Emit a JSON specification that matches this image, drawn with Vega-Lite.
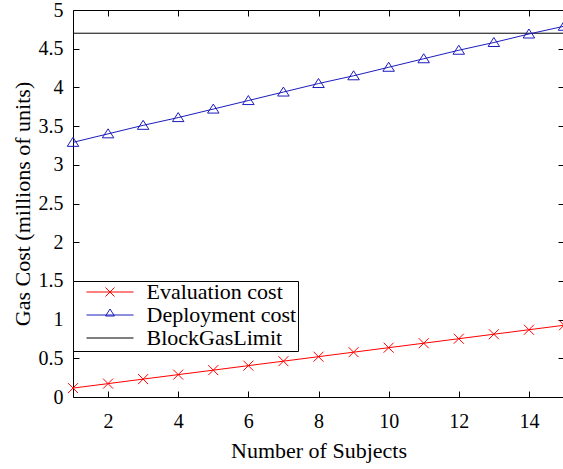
{
  "$schema": "https://vega.github.io/schema/vega-lite/v6.json",
  "width": 491,
  "height": 387,
  "autosize": {"type": "none"},
  "padding": {"left": 73, "top": 10, "right": 0, "bottom": 72},
  "background": "white",
  "config": {
    "font": "Liberation Serif",
    "view": {"stroke": "black", "strokeWidth": 1},
    "axis": {
      "domain": false, "grid": false, "tickColor": "black", "tickSize": -6, "tickWidth": 1,
      "labelColor": "black", "labelFontSize": 20, "titleFontSize": 22, "titleFontWeight": "normal",
      "titleColor": "black", "labelFont": "Liberation Serif", "titleFont": "Liberation Serif"
    }
  },
  "data": {
    "values": [
      {"n": 1, "cost": 0.115, "series": "Evaluation cost"},
      {"n": 2, "cost": 0.173, "series": "Evaluation cost"},
      {"n": 3, "cost": 0.231, "series": "Evaluation cost"},
      {"n": 4, "cost": 0.289, "series": "Evaluation cost"},
      {"n": 5, "cost": 0.347, "series": "Evaluation cost"},
      {"n": 6, "cost": 0.405, "series": "Evaluation cost"},
      {"n": 7, "cost": 0.463, "series": "Evaluation cost"},
      {"n": 8, "cost": 0.521, "series": "Evaluation cost"},
      {"n": 9, "cost": 0.579, "series": "Evaluation cost"},
      {"n": 10, "cost": 0.637, "series": "Evaluation cost"},
      {"n": 11, "cost": 0.695, "series": "Evaluation cost"},
      {"n": 12, "cost": 0.753, "series": "Evaluation cost"},
      {"n": 13, "cost": 0.811, "series": "Evaluation cost"},
      {"n": 14, "cost": 0.869, "series": "Evaluation cost"},
      {"n": 15, "cost": 0.927, "series": "Evaluation cost"},
      {"n": 1, "cost": 3.29, "series": "Deployment cost"},
      {"n": 2, "cost": 3.40, "series": "Deployment cost"},
      {"n": 3, "cost": 3.51, "series": "Deployment cost"},
      {"n": 4, "cost": 3.61, "series": "Deployment cost"},
      {"n": 5, "cost": 3.72, "series": "Deployment cost"},
      {"n": 6, "cost": 3.83, "series": "Deployment cost"},
      {"n": 7, "cost": 3.94, "series": "Deployment cost"},
      {"n": 8, "cost": 4.05, "series": "Deployment cost"},
      {"n": 9, "cost": 4.15, "series": "Deployment cost"},
      {"n": 10, "cost": 4.26, "series": "Deployment cost"},
      {"n": 11, "cost": 4.37, "series": "Deployment cost"},
      {"n": 12, "cost": 4.48, "series": "Deployment cost"},
      {"n": 13, "cost": 4.58, "series": "Deployment cost"},
      {"n": 14, "cost": 4.69, "series": "Deployment cost"},
      {"n": 15, "cost": 4.79, "series": "Deployment cost"},
      {"n": 1, "cost": 4.7, "series": "BlockGasLimit"},
      {"n": 15, "cost": 4.7, "series": "BlockGasLimit"}
    ]
  },
  "layer": [
    {
      "transform": [{"filter": "datum.series === 'BlockGasLimit'"}],
      "mark": {"type": "line", "color": "black", "strokeWidth": 1},
      "encoding": {
        "x": {"field": "n", "type": "quantitative", "scale": {"domain": [1, 15], "nice": false, "zero": false},
          "axis": {"orient": "bottom", "values": [2, 4, 6, 8, 10, 12, 14], "title": "Number of Subjects", "labelPadding": 20, "titlePadding": 9}},
        "y": {"field": "cost", "type": "quantitative", "scale": {"domain": [0, 5], "nice": false},
          "axis": {"orient": "left", "values": [0, 0.5, 1, 1.5, 2, 2.5, 3, 3.5, 4, 4.5, 5], "format": "~g", "title": "Gas Cost (millions of units)", "labelPadding": 16, "titlePadding": 4}}
      }
    },
    {
      "transform": [{"filter": "datum.series === 'Evaluation cost'"}],
      "mark": {"type": "line", "color": "#ff0000", "strokeWidth": 1},
      "encoding": {
        "x": {"field": "n", "type": "quantitative", "axis": null},
        "y": {"field": "cost", "type": "quantitative", "axis": null}
      }
    },
    {
      "transform": [{"filter": "datum.series === 'Evaluation cost'"}],
      "mark": {"type": "point", "shape": "M-1,-1L1,1M-1,1L1,-1", "size": 100, "color": "#ff0000", "strokeWidth": 1, "filled": false, "opacity": 1},
      "encoding": {
        "x": {"field": "n", "type": "quantitative", "axis": null},
        "y": {"field": "cost", "type": "quantitative", "axis": null}
      }
    },
    {
      "transform": [{"filter": "datum.series === 'Deployment cost'"}],
      "mark": {"type": "line", "color": "#1c1cbd", "strokeWidth": 1},
      "encoding": {
        "x": {"field": "n", "type": "quantitative", "axis": null},
        "y": {"field": "cost", "type": "quantitative", "axis": null}
      }
    },
    {
      "transform": [{"filter": "datum.series === 'Deployment cost'"}],
      "mark": {"type": "point", "shape": "M0,-1L1.15,0.8L-1.15,0.8Z", "size": 100, "color": "#1c1cbd", "strokeWidth": 1, "filled": false, "opacity": 1},
      "encoding": {
        "x": {"field": "n", "type": "quantitative", "axis": null},
        "y": {"field": "cost", "type": "quantitative", "axis": null}
      }
    },
    {
      "mark": {"type": "point", "opacity": 0, "filled": false},
      "encoding": {
        "x": {"field": "n", "type": "quantitative",
          "axis": {"orient": "top", "values": [2, 4, 6, 8, 10, 12, 14], "labels": false, "title": null}},
        "y": {"field": "cost", "type": "quantitative",
          "axis": {"orient": "right", "values": [0, 0.5, 1, 1.5, 2, 2.5, 3, 3.5, 4, 4.5, 5], "labels": false, "title": null}},
        "shape": {"field": "series", "type": "nominal",
          "scale": {"domain": ["Evaluation cost", "Deployment cost", "BlockGasLimit"],
            "range": ["M-4.7,0L4.7,0M-0.9,-0.9L0.9,0.9M-0.9,0.9L0.9,-0.9", "M-4.7,0L4.7,0M0,-1.2L0.9,0.2L-0.9,0.2Z", "M-4.7,0L4.7,0"]},
          "legend": {"orient": "none", "legendX": 0, "legendY": 271, "title": null, "strokeColor": "black", "fillColor": "white",
            "padding": 1.5, "symbolSize": 100, "symbolStrokeWidth": 1, "symbolOpacity": 1, "symbolOffset": 24.5, "labelOffset": 25.5,
            "labelFontSize": 22, "labelColor": "black", "labelFont": "Liberation Serif", "labelLimit": 400, "rowPadding": 0, "clipHeight": 19}},
        "color": {"field": "series", "type": "nominal",
          "scale": {"domain": ["Evaluation cost", "Deployment cost", "BlockGasLimit"], "range": ["#ff0000", "#1c1cbd", "black"]},
          "legend": {"orient": "none", "legendX": 0, "legendY": 271, "title": null, "strokeColor": "black", "fillColor": "white",
            "padding": 1.5, "symbolSize": 100, "symbolStrokeWidth": 1, "symbolOpacity": 1, "symbolOffset": 24.5, "labelOffset": 25.5,
            "labelFontSize": 22, "labelColor": "black", "labelFont": "Liberation Serif", "labelLimit": 400, "rowPadding": 0, "clipHeight": 19}}
      }
    }
  ],
  "resolve": {"axis": {"x": "independent", "y": "independent"}}
}
